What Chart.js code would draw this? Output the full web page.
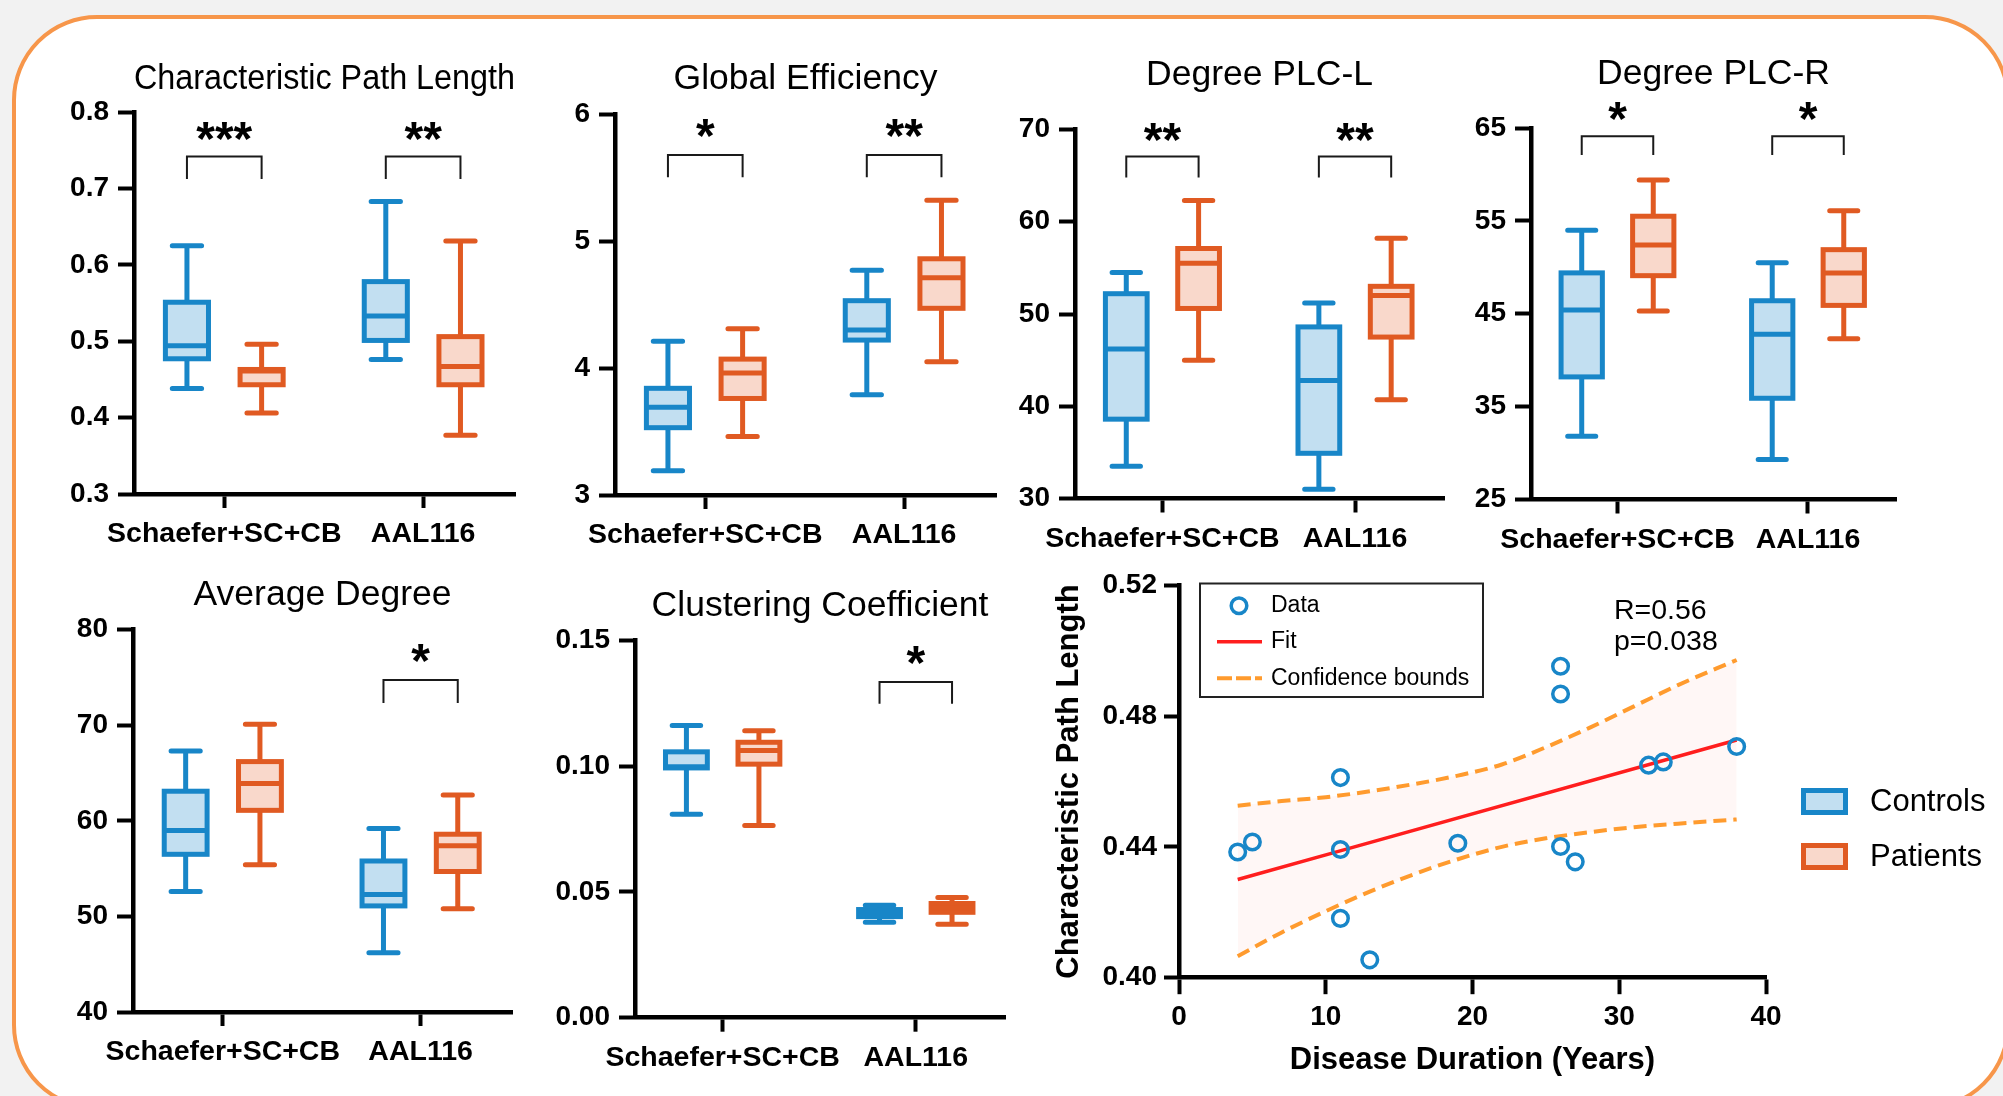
<!DOCTYPE html>
<html>
<head>
<meta charset="utf-8">
<script src="https://cdn.jsdelivr.net/npm/chart.js@4.4.1/dist/chart.umd.min.js"></script>
<style>
html,body{margin:0;padding:0;width:2003px;height:1096px;overflow:hidden;background:#f2f2f2;}
#frame{position:absolute;left:12px;top:15px;width:1998px;height:1095px;border:4px solid #f7964a;border-radius:85px;background:#fff;box-sizing:border-box;}
canvas{position:absolute;}
</style>
</head>
<body>
<div id="frame"></div>
<canvas id="c1"></canvas>
<canvas id="c2"></canvas>
<canvas id="c3"></canvas>
<canvas id="c4"></canvas>
<canvas id="c5"></canvas>
<canvas id="c6"></canvas>
<canvas id="c7"></canvas>
<script>
// ---------------- DATA ----------------
const categories = ['Schaefer+SC+CB', 'AAL116'];
const groups = ['Controls', 'Patients'];
// five-number summaries per category: [min, Q1, median, Q3, max]
const cplControls = [[0.438, 0.477, 0.494, 0.551, 0.625], [0.476, 0.501, 0.533, 0.578, 0.683]];
const cplPatients = [[0.406, 0.443, 0.461, 0.463, 0.496], [0.377, 0.443, 0.467, 0.506, 0.631]];
const cplTicks = [0.3, 0.4, 0.5, 0.6, 0.7, 0.8];
const cplSig = ['***', '**'];

const geControls = [[3.19, 3.53, 3.69, 3.84, 4.21], [3.79, 4.22, 4.30, 4.53, 4.77]];
const gePatients = [[3.46, 3.76, 3.96, 4.07, 4.31], [4.05, 4.47, 4.71, 4.86, 5.32]];
const geTicks = [3, 4, 5, 6];
const geSig = ['*', '**'];

const plclControls = [[33.5, 38.6, 46.2, 52.2, 54.5], [31.0, 34.9, 42.8, 48.6, 51.2]];
const plclPatients = [[45.0, 50.6, 55.5, 57.1, 62.3], [40.7, 47.5, 52.0, 53.0, 58.2]];
const plclTicks = [30, 40, 50, 60, 70];
const plclSig = ['**', '**'];

const plcrControls = [[31.8, 38.2, 45.4, 49.4, 54.0], [29.3, 35.9, 42.8, 46.4, 50.5]];
const plcrPatients = [[45.3, 49.1, 52.4, 55.5, 59.4], [42.3, 45.9, 49.4, 51.9, 56.1]];
const plcrTicks = [25, 35, 45, 55, 65];
const plcrSig = ['*', '*'];

const degControls = [[52.6, 56.5, 59.0, 63.1, 67.3], [46.2, 51.1, 52.3, 55.8, 59.2]];
const degPatients = [[55.4, 61.1, 63.9, 66.2, 70.1], [50.8, 54.7, 57.4, 58.6, 62.7]];
const degTicks = [40, 50, 60, 70, 80];
const degSig = ['', '*'];

const ccControls = [[0.0809, 0.0993, 0.0998, 0.1057, 0.1162], [0.0379, 0.0402, 0.0416, 0.0430, 0.0447]];
const ccPatients = [[0.0764, 0.1008, 0.1062, 0.1095, 0.1141], [0.0372, 0.0419, 0.0437, 0.0454, 0.0478]];
const ccTicks = [0.00, 0.05, 0.10, 0.15];
const ccSig = ['', '*'];

// correlation panel
const durationYears = [4, 5, 11, 11, 11, 13, 19, 26, 26, 26, 27, 32, 33, 38];
const pathLength = [0.4384, 0.4415, 0.4612, 0.4392, 0.4181, 0.4054, 0.4411, 0.4953, 0.4868, 0.4401, 0.4354, 0.4650, 0.4660, 0.4707];
const fitX = [4, 38];
const fitY = [0.4300, 0.4727];
const ciX = [4, 7, 10, 13, 16, 19, 22, 25, 28, 31, 34, 38];
const ciUpper = [0.4526, 0.4540, 0.4552, 0.4570, 0.4592, 0.4618, 0.4652, 0.4705, 0.4765, 0.4830, 0.4895, 0.4972];
const ciLower = [0.4065, 0.4138, 0.4203, 0.4263, 0.4316, 0.4362, 0.4400, 0.4426, 0.4445, 0.4460, 0.4471, 0.4484];
const corrXTicks = [0, 10, 20, 30, 40];
const corrYTicks = [0.40, 0.44, 0.48, 0.52];
const corrStats = ['R=0.56', 'p=0.038'];
const corrLegend = ['Data', 'Fit', 'Confidence bounds'];

// ---------------- STYLE ----------------
const FONT = "'Liberation Sans', Arial, Helvetica, sans-serif";
const C = {blue:'#1886c8', blueFill:'#c2dff1', orange:'#e05a22', orangeFill:'#f9d8cb',
           red:'#ff1e1e', dash:'#ff9b2e', band:'#fff7f6'};
Chart.defaults.font.family = FONT;
Chart.defaults.color = '#000';
const AXW = 4.5;

const boxPlugin = {
  id: 'boxSig',
  afterDatasetsDraw(chart, args, opts) {
    const ctx = chart.ctx, ys = chart.scales.y;
    ctx.save();
    chart.data.datasets.forEach((ds, di) => {
      const meta = chart.getDatasetMeta(di);
      meta.data.forEach((bar, i) => {
        const s = ds.summary[i];
        const x = bar.x, w = bar.width, h = w / 2;
        const p = s.map(v => ys.getPixelForValue(v));
        ctx.strokeStyle = ds.strokeColor;
        ctx.lineWidth = 5;
        ctx.lineCap = 'butt';
        ctx.beginPath();
        ctx.moveTo(x, p[3]); ctx.lineTo(x, p[4]);
        ctx.moveTo(x, p[1]); ctx.lineTo(x, p[0]);
        ctx.stroke();
        ctx.strokeRect(x - h, p[3], w, p[1] - p[3]);
        ctx.beginPath(); ctx.moveTo(x - h, p[2]); ctx.lineTo(x + h, p[2]); ctx.stroke();
        ctx.lineCap = 'round';
        const cw = w * 0.34;
        ctx.beginPath();
        ctx.moveTo(x - cw, p[4]); ctx.lineTo(x + cw, p[4]);
        ctx.moveTo(x - cw, p[0]); ctx.lineTo(x + cw, p[0]);
        ctx.stroke();
      });
    });
    const m0 = chart.getDatasetMeta(0), m1 = chart.getDatasetMeta(1);
    opts.marks.forEach((mk, i) => {
      if (!mk) return;
      const x0 = m0.data[i].x, x1 = m1.data[i].x;
      const yTop = ys.getPixelForValue(opts.level[0]);
      const yLeg = ys.getPixelForValue(opts.level[1]);
      const yStar = ys.getPixelForValue(opts.level[2]) - 2;
      ctx.strokeStyle = '#1a1a1a'; ctx.lineWidth = 2; ctx.lineCap = 'butt';
      ctx.beginPath(); ctx.moveTo(x0, yLeg); ctx.lineTo(x0, yTop); ctx.lineTo(x1, yTop); ctx.lineTo(x1, yLeg); ctx.stroke();
      ctx.font = 'bold 48px ' + FONT; ctx.fillStyle = '#000';
      ctx.textAlign = 'center'; ctx.textBaseline = 'alphabetic';
      const tm = ctx.measureText(mk);
      const base = yStar + (tm.actualBoundingBoxAscent - tm.actualBoundingBoxDescent) / 2;
      ctx.fillText(mk, (x0 + x1) / 2, base);
    });
    ctx.restore();
  }
};

function makeBox(p) {
  const cv = document.getElementById(p.id);
  const r = p.rect;
  const left = Math.floor(r.l) - 110;
  const top = p.top;
  const width = Math.ceil(r.r - left + 14);
  const height = Math.ceil(r.b - top + 64);
  cv.width = width; cv.height = height;
  cv.style.left = left + 'px'; cv.style.top = top + 'px';
  cv.style.width = width + 'px'; cv.style.height = height + 'px';
  const wy = r.l - left;
  const hx = height - (r.b - top);
  const TS = 35.5, TLH = TS * 1.2;
  const padTop = r.tm - TLH / 2 - top;
  const titlePadBottom = r.t - r.tm - TLH / 2;
  const mk = (arr, fill, stroke, label) => ({
    label: label,
    data: arr.map((s, i) => ({x: i, y: [s[1], s[3]]})),
    summary: arr, strokeColor: stroke,
    backgroundColor: fill, borderWidth: 0,
    categoryPercentage: 0.751, barPercentage: 0.577
  });
  new Chart(cv, {
    type: 'bar',
    data: {datasets: [mk(p.ctrl, C.blueFill, C.blue, groups[0]), mk(p.pat, C.orangeFill, C.orange, groups[1])]},
    options: {
      responsive: false, animation: false, events: [],
      layout: {padding: {top: padTop, left: 0, right: width - (r.r - left), bottom: 0}},
      plugins: {
        legend: {display: false}, tooltip: {enabled: false},
        title: {display: true, text: p.title, fullSize: false, color: '#000',
                font: {size: TS, weight: 'normal', lineHeight: 1.2}, padding: {top: 0, bottom: titlePadBottom}},
        boxSig: {marks: p.sig, level: p.level}
      },
      scales: {
        x: {
          type: 'linear', min: -0.454, max: 1.462, offset: false,
          grid: {display: true, offset: false, drawOnChartArea: false, drawTicks: true, tickLength: 14, tickWidth: 4, tickColor: '#000'},
          border: {display: true, width: AXW, color: '#000'},
          afterBuildTicks: s => { s.ticks = categories.map((c, i) => ({value: i})); },
          ticks: {callback: v => categories[v], maxRotation: 0, minRotation: 0, autoSkip: false,
                  padding: 9.5, color: '#000', font: {size: 28.5, weight: 'bold'}},
          afterFit: s => { s.height = hx; }
        },
        y: {
          min: p.ticks[0], max: p.ticks[p.ticks.length - 1],
          grid: {display: true, drawOnChartArea: false, drawTicks: true, tickLength: 16, tickWidth: 4, tickColor: '#000'},
          border: {display: true, width: AXW, color: '#000'},
          afterBuildTicks: s => { s.ticks = p.ticks.map(v => ({value: v})); },
          ticks: {callback: v => Number(v).toFixed(p.dec), padding: 9, color: '#000', font: {size: 28, weight: 'bold'}},
          afterFit: s => { s.width = wy; }
        }
      }
    },
    plugins: [boxPlugin]
  });
}

const panels = [
  {id: 'c1', title: 'Characteristic Path Length', ctrl: cplControls, pat: cplPatients, ticks: cplTicks, dec: 1, sig: cplSig,
   level: [0.7417, 0.7123, 0.773], rect: {l: 134, t: 112, r: 515, b: 494, tm: 79.5}, top: 20},
  {id: 'c2', title: 'Global Efficiency', ctrl: geControls, pat: gePatients, ticks: geTicks, dec: 0, sig: geSig,
   level: [5.678, 5.501, 5.874], rect: {l: 615, t: 114, r: 996, b: 495, tm: 79.3}, top: 20},
  {id: 'c3', title: 'Degree PLC-L', ctrl: plclControls, pat: plclPatients, ticks: plclTicks, dec: 0, sig: plclSig,
   level: [67.07, 64.8, 69.5], rect: {l: 1075, t: 129.5, r: 1444, b: 498.5, tm: 75.5}, top: 20},
  {id: 'c4', title: 'Degree PLC-R', ctrl: plcrControls, pat: plcrPatients, ticks: plcrTicks, dec: 0, sig: plcrSig,
   level: [64.12, 62.09, 66.6], rect: {l: 1531, t: 128, r: 1896, b: 499.5, tm: 74}, top: 20},
  {id: 'c5', title: 'Average Degree', ctrl: degControls, pat: degPatients, ticks: degTicks, dec: 0, sig: degSig,
   level: [74.74, 72.33, 77.33], rect: {l: 133, t: 629.7, r: 512, b: 1012, tm: 595}, top: 545},
  {id: 'c6', title: 'Clustering Coefficient', ctrl: ccControls, pat: ccPatients, ticks: ccTicks, dec: 2, sig: ccSig,
   level: [0.1335, 0.1248, 0.1434], rect: {l: 635, t: 640.4, r: 1005, b: 1017.7, tm: 606}, top: 545}
];
panels.forEach(makeBox);

// ---------------- correlation panel ----------------
const SC = {left: 1039, top: 545, width: 964, height: 551};
const plotL = 1179, plotR = 1766, plotT = 585.5, plotB = 977.5;
const scatterDeco = {
  id: 'scatterDeco',
  afterDraw(chart) {
    const ctx = chart.ctx, ox = SC.left, oy = SC.top;
    const ds = chart.data.datasets;
    ctx.save();
    // inner legend
    ctx.strokeStyle = '#222'; ctx.lineWidth = 2;
    ctx.strokeRect(1200 - ox, 583.5 - oy, 283, 113.5);
    ctx.font = '23px ' + FONT; ctx.fillStyle = '#000'; ctx.textAlign = 'left'; ctx.textBaseline = 'middle';
    ctx.beginPath(); ctx.arc(1239 - ox, 605.7 - oy, 7.8, 0, Math.PI * 2);
    ctx.strokeStyle = ds[0].pointBorderColor; ctx.lineWidth = 3.5; ctx.stroke();
    ctx.fillText(corrLegend[0], 1271 - ox, 606 - oy);
    ctx.beginPath(); ctx.moveTo(1217 - ox, 641.7 - oy); ctx.lineTo(1262 - ox, 641.7 - oy);
    ctx.strokeStyle = ds[1].borderColor; ctx.lineWidth = 3.5; ctx.stroke();
    ctx.fillText(corrLegend[1], 1271 - ox, 642 - oy);
    ctx.beginPath(); ctx.setLineDash([15, 4]); ctx.moveTo(1217 - ox, 678.3 - oy); ctx.lineTo(1262 - ox, 678.3 - oy);
    ctx.strokeStyle = ds[2].borderColor; ctx.lineWidth = 4; ctx.stroke(); ctx.setLineDash([]);
    ctx.fillText(corrLegend[2], 1271 - ox, 678.5 - oy);
    // stats
    ctx.font = '28.5px ' + FONT;
    ctx.fillText(corrStats[0], 1614 - ox, 611 - oy);
    ctx.fillText(corrStats[1], 1614 - ox, 642.5 - oy);
    // group legend
    const items = [[groups[0], C.blueFill, C.blue, 788], [groups[1], C.orangeFill, C.orange, 843]];
    items.forEach(([lab, fill, stroke, y]) => {
      ctx.fillStyle = fill; ctx.fillRect(1801 - ox, y - oy, 47, 27);
      ctx.strokeStyle = stroke; ctx.lineWidth = 5; ctx.strokeRect(1803.5 - ox, y + 2.5 - oy, 42, 22);
      ctx.fillStyle = '#000'; ctx.font = '31px ' + FONT;
      ctx.fillText(lab, 1870 - ox, y + 14 - oy);
    });
    ctx.restore();
  }
};

(function () {
  const cv = document.getElementById('c7');
  cv.width = SC.width; cv.height = SC.height;
  cv.style.left = SC.left + 'px'; cv.style.top = SC.top + 'px';
  cv.style.width = SC.width + 'px'; cv.style.height = SC.height + 'px';
  const wy = plotL - SC.left;
  const hx = SC.top + SC.height - plotB;
  const lineDs = (label, xs, ys, extra) => Object.assign({
    label: label, data: xs.map((x, i) => ({x: x, y: ys[i]})),
    showLine: true, pointRadius: 0, fill: false, cubicInterpolationMode: 'monotone'
  }, extra);
  new Chart(cv, {
    type: 'scatter',
    data: {datasets: [
      {label: corrLegend[0], data: durationYears.map((x, i) => ({x: x, y: pathLength[i]})),
       pointRadius: 7.8, pointBorderWidth: 3.5, pointBorderColor: C.blue, pointBackgroundColor: 'rgba(0,0,0,0)', showLine: false},
      lineDs(corrLegend[1], fitX, fitY, {borderColor: C.red, borderWidth: 3.5}),
      lineDs(corrLegend[2], ciX, ciUpper, {borderColor: C.dash, borderWidth: 4, borderDash: [13, 7], fill: '+1', backgroundColor: C.band}),
      lineDs(corrLegend[2], ciX, ciLower, {borderColor: C.dash, borderWidth: 4, borderDash: [13, 7]})
    ]},
    options: {
      responsive: false, animation: false, events: [],
      layout: {padding: {top: plotT - SC.top, left: 0, right: SC.left + SC.width - plotR, bottom: 0}},
      plugins: {legend: {display: false}, tooltip: {enabled: false}, filler: {drawTime: 'beforeDatasetsDraw'}},
      scales: {
        x: {
          type: 'linear', min: 0, max: 40,
          grid: {display: true, drawOnChartArea: false, drawTicks: true, tickLength: 16.7, tickWidth: 4, tickColor: '#000'},
          border: {display: true, width: AXW, color: '#000'},
          afterBuildTicks: s => { s.ticks = corrXTicks.map(v => ({value: v})); },
          ticks: {callback: v => String(v), padding: 6, color: '#000', font: {size: 28, weight: 'bold'}, maxRotation: 0},
          title: {display: true, text: 'Disease Duration (Years)', color: '#000', font: {size: 31, weight: 'bold', lineHeight: 1.2}, padding: {top: 0, bottom: 17.4}},
          afterFit: s => { s.height = hx; }
        },
        y: {
          min: 0.40, max: 0.52,
          grid: {display: true, drawOnChartArea: false, drawTicks: true, tickLength: 15, tickWidth: 4, tickColor: '#000'},
          border: {display: true, width: AXW, color: '#000'},
          afterBuildTicks: s => { s.ticks = corrYTicks.map(v => ({value: v})); },
          ticks: {callback: v => Number(v).toFixed(2), padding: 7, color: '#000', font: {size: 28, weight: 'bold'}},
          title: {display: true, text: 'Characteristic Path Length', color: '#000', font: {size: 31, weight: 'bold', lineHeight: 1.2}, padding: {top: 11.4, bottom: 0}},
          afterFit: s => { s.width = wy; }
        }
      }
    },
    plugins: [scatterDeco]
  });
})();
</script>
</body>
</html>
